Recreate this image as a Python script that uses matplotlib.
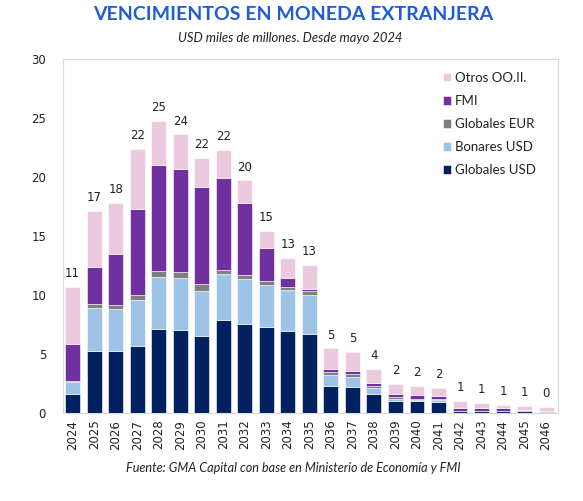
import matplotlib
matplotlib.use("Agg")
import matplotlib.pyplot as plt
import numpy as np

years = [str(y) for y in range(2024, 2047)]
globales_usd = [1.6, 5.2, 5.2, 5.7, 7.1, 7.0, 6.5, 7.9, 7.55, 7.25, 6.9, 6.65, 2.3, 2.2, 1.6, 1.0, 1.0, 0.95, 0.15, 0.15, 0.15, 0.15, 0.1]
bonares_usd = [1.0, 3.65, 3.6, 3.9, 4.4, 4.4, 3.85, 3.9, 3.75, 3.55, 3.5, 3.3, 0.9, 0.8, 0.5, 0.15, 0.1, 0.1, 0.0, 0.0, 0.0, 0.0, 0.0]
globales_eur = [0.1, 0.35, 0.3, 0.4, 0.5, 0.5, 0.55, 0.3, 0.4, 0.4, 0.3, 0.35, 0.25, 0.3, 0.15, 0.15, 0.1, 0.15, 0.0, 0.0, 0.0, 0.0, 0.0]
fmi = [3.1, 3.2, 4.4, 7.3, 9.0, 8.8, 8.25, 7.8, 6.1, 2.75, 0.7, 0.2, 0.25, 0.2, 0.3, 0.25, 0.3, 0.25, 0.25, 0.22, 0.25, 0.05, 0.03]
otros = [4.9, 4.7, 4.3, 5.1, 3.75, 2.9, 2.45, 2.4, 1.9, 1.45, 1.7, 2.05, 1.75, 1.65, 1.2, 0.9, 0.75, 0.65, 0.6, 0.48, 0.28, 0.4, 0.32]

series = [
    ("Globales USD", globales_usd, "#002060"),
    ("Bonares USD", bonares_usd, "#9DC3E6"),
    ("Globales EUR", globales_eur, "#7F7F7F"),
    ("FMI", fmi, "#7030A0"),
    ("Otros OO.II.", otros, "#EBCAE0"),
]

fig = plt.figure(figsize=(5.83, 5.01), dpi=100)
ax = fig.add_axes([0.1076, 0.1762, 0.849, 0.706])

x = np.arange(len(years))
bottom = np.zeros(len(years))
handles = []
for name, vals, col in series:
    v = np.array(vals)
    b = ax.bar(x, v, 0.69, bottom=bottom, color=col, edgecolor="white", linewidth=0.4, label=name)
    handles.append(b)
    bottom = bottom + v

for xi, tot in zip(x, bottom):
    ax.annotate(f"{tot:.0f}", (xi, tot), xytext=(0, 5), textcoords="offset points",
                ha="center", va="bottom", fontsize=8.5, color="#222222", family="DejaVu Sans")

ax.set_xlim(-0.46, 22.54)
ax.set_ylim(0, 30)
ax.set_yticks(range(0, 31, 5))
ax.set_xticks(x)
ax.set_xticklabels(years, rotation=90, fontsize=8.5, family="DejaVu Sans", color="#222222")
ax.tick_params(axis="y", labelsize=8.5, colors="#222222", length=0, pad=12)
ax.tick_params(axis="x", length=0, pad=5)
for s in ax.spines.values():
    s.set_color("#D9D9D9")
    s.set_linewidth(0.8)

leg = ax.legend(handles[::-1], [s[0] for s in series][::-1], loc="upper right",
                bbox_to_anchor=(0.979, 0.997), frameon=False,
                prop={"family": "Lato", "size": 9.5}, handlelength=0.6, handleheight=0.6,
                handletextpad=0.3, labelspacing=0.84)
for t in leg.get_texts():
    t.set_color("#222222")

fig.text(0.503, 0.972, "VENCIMIENTOS EN MONEDA EXTRANJERA", ha="center", va="center",
         fontsize=14, fontweight="bold", family="Lato", color="#1F5CD9")
fig.text(0.498, 0.924, "USD miles de millones. Desde mayo 2024", ha="center", va="center",
         fontsize=9.4, style="italic", family="Lato", color="#222222")
fig.text(0.503, 0.066, "Fuente: GMA Capital con base en Ministerio de Economía y FMI", ha="center", va="center",
         fontsize=9.1, style="italic", family="Lato", color="#222222")

fig.savefig("out.png", dpi=100)
